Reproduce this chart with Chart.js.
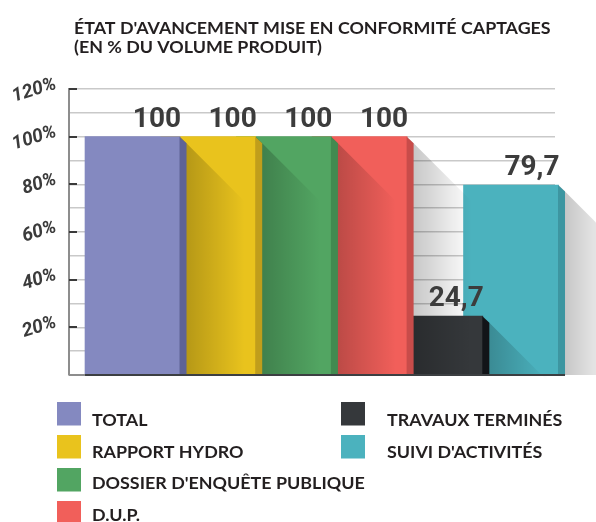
<!DOCTYPE html>
<html>
<head>
<meta charset="utf-8">
<script src="https://cdn.jsdelivr.net/npm/chart.js@4.4.1/dist/chart.umd.min.js"></script>
<style>
  html, body { margin: 0; padding: 0; background: #fff; }
  canvas { display: block; }
</style>
</head>
<body>
<canvas id="chart" width="596" height="522"></canvas>
<script>
// ---- data ----
const categories = ['TOTAL', 'RAPPORT HYDRO', "DOSSIER D'ENQUÊTE PUBLIQUE", 'D.U.P.', 'TRAVAUX TERMINÉS', "SUIVI D'ACTIVITÉS"];
const values = [100, 100, 100, 100, 24.7, 79.7];
const yTicks = [20, 40, 60, 80, 100, 120];
const titleLines = ["ÉTAT D'AVANCEMENT MISE EN CONFORMITÉ CAPTAGES", '(EN % DU VOLUME PRODUIT)'];

// ---- styles ----
const frontColors = ['#8489c0', '#e9c31d', '#52a562', '#f15f5a', '#35383b', '#4bb2be'];
const sideColors = ['#5e6396', '#c09e1b', '#418a50', '#c84c4a', '#121418', '#3d96a1'];
const SIDE = 6.5;
const SHADOW = 58;
const textFont = 'Lato, sans-serif';
const ink = '#231f20';

const fmt = v => String(v).replace('.', ',');

// bars are drawn back to front, each with its side face and the shadow it casts
const bars3d = {
    id: 'bars3d',
    beforeDatasetsDraw(chart) {
        const ctx = chart.ctx;
        const y = chart.scales.y;
        const left = chart.chartArea.left;
        ctx.save();
        ctx.strokeStyle = '#3a3a3a';
        ctx.lineWidth = 2;
        yTicks.forEach(v => {
            const py = Math.round(y.getPixelForValue(v));
            ctx.beginPath();
            ctx.moveTo(left, py);
            ctx.lineTo(left + 8, py);
            ctx.stroke();
        });

        // slanted y labels
        ctx.fillStyle = '#3b3b3b';
        ctx.font = 'italic bold 19px Roboto';
        ctx.textAlign = 'right';
        ctx.textBaseline = 'middle';
        yTicks.forEach(v => {
            const py = y.getPixelForValue(v);
            ctx.save();
            ctx.translate(left - 13, py - 5);
            ctx.rotate(-17 * Math.PI / 180);
            ctx.fillText(v + '%', 0, 0);
            ctx.restore();
        });
        ctx.restore();
    },
    beforeDatasetDraw(chart, args) {
        const ctx = chart.ctx;
        const base = chart.scales.y.getPixelForValue(0);
        const bars = args.meta.data;
        for (let i = bars.length - 1; i >= 0; i--) {
            const b = bars[i];
            const right = b.x + b.width / 2;
            const top = b.y;

            ctx.save();
            const g = ctx.createLinearGradient(right + SIDE, 0, right + SIDE + SHADOW, 0);
            g.addColorStop(0, 'rgba(0,0,0,0.22)');
            g.addColorStop(1, 'rgba(0,0,0,0)');
            ctx.fillStyle = g;
            ctx.beginPath();
            ctx.moveTo(right, top);
            ctx.lineTo(right + SIDE + SHADOW, top + SIDE + SHADOW);
            ctx.lineTo(right + SIDE + SHADOW, base);
            ctx.lineTo(right, base);
            ctx.closePath();
            ctx.fill();
            ctx.restore();

            b.draw(ctx);

            ctx.save();
            ctx.fillStyle = sideColors[i];
            ctx.beginPath();
            ctx.moveTo(right - 0.5, top);
            ctx.lineTo(right + SIDE, top + SIDE);
            ctx.lineTo(right + SIDE, base);
            ctx.lineTo(right - 0.5, base);
            ctx.closePath();
            ctx.fill();
            ctx.restore();
        }
        return false;
    },
    afterDatasetsDraw(chart) {
        const ctx = chart.ctx;
        const bars = chart.getDatasetMeta(0).data;
        const base = Math.round(chart.scales.y.getPixelForValue(0));
        const first = bars[0];
        const last = bars[bars.length - 1];
        ctx.save();
        ctx.lineWidth = 2;
        ctx.strokeStyle = '#8d8d8d';
        ctx.beginPath();
        ctx.moveTo(chart.chartArea.left, base);
        ctx.lineTo(first.x - first.width / 2, base);
        ctx.stroke();
        ctx.strokeStyle = '#3c3f42';
        ctx.beginPath();
        ctx.moveTo(first.x - first.width / 2, base);
        ctx.lineTo(last.x + last.width / 2 + SIDE, base);
        ctx.stroke();

        // value labels, right aligned on the bar front
        ctx.fillStyle = '#3c3c3c';
        ctx.font = 'bold 28px Roboto';
        ctx.textAlign = 'right';
        ctx.textBaseline = 'alphabetic';
        bars.forEach((b, i) => {
            ctx.fillText(fmt(values[i]), b.x + b.width / 2 + 1, b.y - 10);
        });
        ctx.restore();
    },
    afterDraw(chart) {
        const ctx = chart.ctx;
        ctx.save();
        ctx.fillStyle = ink;
        ctx.textAlign = 'left';
        ctx.textBaseline = 'alphabetic';
        ctx.font = 'bold 17.85px ' + textFont;
        titleLines.forEach((t, i) => ctx.fillText(t, 74, 34 + i * 19));

        // legend: two columns, four rows in the first
        ctx.font = 'bold 17.9px ' + textFont;
        categories.forEach((c, i) => {
            const col = i < 4 ? 0 : 1;
            const row = i < 4 ? i : i - 4;
            const bx = col === 0 ? 57 : 341;
            const tx = col === 0 ? 92 : 387;
            const by = 402 + row * 33;
            ctx.fillStyle = frontColors[i];
            ctx.fillRect(bx, by, 24, 23.5);
            ctx.fillStyle = ink;
            ctx.fillText(c, tx, 426 + row * 31.7);
        });
        ctx.restore();
    }
};

const chart = new Chart(document.getElementById('chart'), {
    type: 'bar',
    data: {
        labels: categories,
        datasets: [{
            data: values.map((v, i) => ({ x: i, y: v })),
            backgroundColor: frontColors,
            borderWidth: 0,
            barThickness: 95
        }]
    },
    options: {
        responsive: false,
        animation: false,
        events: [],
        layout: { padding: { top: 89, right: 41, bottom: 147, left: 0 } },
        plugins: {
            legend: { display: false },
            tooltip: { enabled: false },
            title: { display: false }
        },
        scales: {
            x: {
                type: 'linear',
                display: false,
                offset: false,
                grid: { offset: false },
                min: -0.839,
                max: 5.581
            },
            y: {
                min: 0,
                max: 120,
                afterFit(scale) { scale.width = 69; },
                border: { color: '#8d8d8d', width: 2 },
                grid: {
                    color: c => c.tick.value === 0 ? 'rgba(0,0,0,0)' : '#c9c9c9',
                    lineWidth: 1.6,
                    drawTicks: false
                },
                ticks: {
                    stepSize: 10,
                    display: false
                }
            }
        }
    },
    plugins: [bars3d]
});
</script>
</body>
</html>
